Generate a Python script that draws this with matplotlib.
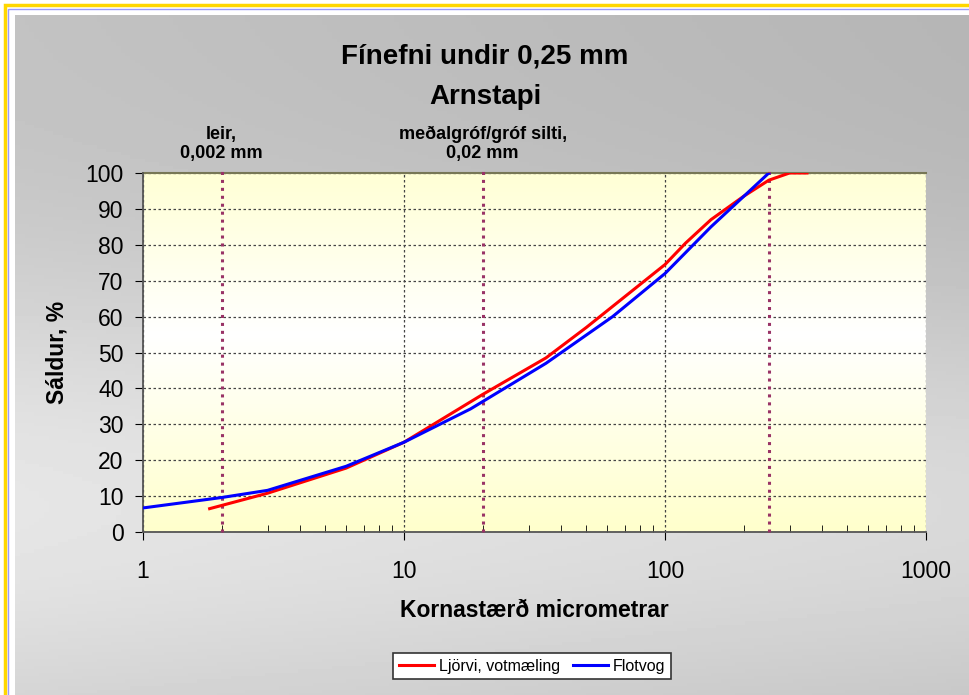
import matplotlib
matplotlib.use('Agg')
import matplotlib.pyplot as plt
import numpy as np
from matplotlib.patches import Rectangle
from matplotlib.ticker import LogLocator, NullFormatter

plt.rcParams['font.family'] = ['Liberation Sans', 'DejaVu Sans']

# Ljörvi, votmæling
red_x = [1.8, 3, 6, 10, 20, 35, 50, 70, 100, 120, 150, 200, 250, 300, 350]
red_y = [6.5, 10.8, 17.8, 25, 38.3, 48.5, 57, 65.5, 74.5, 80.5, 87, 93.5, 98, 100, 100]
# Flotvog
blue_x = [1, 2, 3, 6, 10, 18, 35, 63, 100, 150, 250]
blue_y = [6.7, 9.6, 11.6, 18.3, 25, 34.3, 47, 60, 72, 85, 100]

ref_lines = [2, 20, 250]
ref_labels = ['leir,\n0,002 mm', 'meðalgróf/gróf silti,\n0,02 mm']
yticks = list(range(0, 101, 10))
xticks = [1, 10, 100, 1000]

fig = plt.figure(figsize=(9.7, 6.95), dpi=100)

# background: yellow frame, thin blue line, gray gradient
bg = fig.add_axes([0, 0, 1, 1], zorder=-10)
bg.add_patch(Rectangle((5, 5), 975, 700, facecolor='white', edgecolor='#ffd700', lw=2.5, zorder=1))
bg.add_patch(Rectangle((8.5, 8.5), 970, 700, facecolor='none', edgecolor='#9999ff', lw=1, zorder=1))
yy, xx = np.mgrid[0:1:200j, 0:1:200j]
grad = 0.76 + 0.14 * np.exp(-((yy - 0.72) ** 2) / 0.12) - 0.05 * xx
bg.imshow(grad, cmap='gray', vmin=0, vmax=1, extent=[15, 975, 700, 15], aspect='auto', zorder=2)
bg.set_xlim(0, 970); bg.set_ylim(695, 0); bg.axis('off')

ax = fig.add_axes([143 / 970, 1 - 532 / 695, (926 - 143) / 970, (532 - 173) / 695])
ax.set_xscale('log')
ax.set_xlim(1, 1000)
ax.set_ylim(0, 100)

# yellow-white-yellow plot area gradient
g = np.linspace(0, 1, 200)[:, None]
pa = 1 - 0.2 * np.abs(g - 0.45) / 0.55
cols = np.dstack([np.ones_like(pa), np.ones_like(pa), pa])
ax.imshow(cols, extent=[0, 1, 0, 1], transform=ax.transAxes, aspect='auto', zorder=0)

ax.grid(True, which='major', linestyle=(0, (2, 2)), color='#444444', lw=0.9)
ax.set_axisbelow(True)

for xv in ref_lines:
    ax.plot([xv, xv], [0, 101.5], linestyle=(0, (1, 1.6)), color='#993366', lw=2.2,
            clip_on=False, zorder=3)

ax.plot(red_x, red_y, color='#ff0000', lw=2.2, label='Ljörvi, votmæling', zorder=4)
ax.plot(blue_x, blue_y, color='#0000ff', lw=2.2, label='Flotvog', zorder=5)

for xv, txt in zip(ref_lines[:2], ref_labels):
    ax.text(xv, 103, txt, ha='center', va='bottom', fontsize=13, fontweight='bold',
            linespacing=1.15)

ax.set_yticks(yticks)
ax.set_xticks(xticks)
ax.set_xticklabels([str(v) for v in xticks])
ax.xaxis.set_minor_locator(LogLocator(base=10, subs=np.arange(2, 10)))
ax.xaxis.set_minor_formatter(NullFormatter())
ax.tick_params(axis='x', which='major', direction='out', length=6, pad=14, labelsize=16.5)
ax.tick_params(axis='x', which='minor', direction='in', length=5)
ax.tick_params(axis='y', direction='out', length=6, labelsize=16.5, pad=8)
for s in ['top', 'right']:
    ax.spines[s].set_visible(False)
for s in ['left', 'bottom']:
    ax.spines[s].set_color('#555555')
    ax.spines[s].set_linewidth(1.3)
ax.plot([1, 1000], [100, 100], color='#777755', lw=1.5, clip_on=False, zorder=2)

ax.set_xlabel('Kornastærð micrometrar', fontsize=16.5, fontweight='bold', labelpad=12)
ax.set_ylabel('Sáldur, %', fontsize=16.5, fontweight='bold', labelpad=12)

fig.text(0.5, 1 - 57 / 695, 'Fínefni undir 0,25 mm', ha='center', va='center',
         fontsize=20, fontweight='bold')
fig.text(0.5, 1 - 97 / 695, 'Arnstapi', ha='center', va='center',
         fontsize=20, fontweight='bold')

leg = fig.legend(loc='center', bbox_to_anchor=(532 / 970, 1 - 666 / 695), ncol=2,
                 fontsize=11.5, frameon=True, fancybox=False, handlelength=2.2,
                 handletextpad=0.3, columnspacing=0.8, borderpad=0.35)
leg.get_frame().set_edgecolor('#333333')
leg.get_frame().set_linewidth(1.2)
leg.get_frame().set_facecolor('white')
leg.get_frame().set_alpha(1)

fig.savefig('out.png', dpi=100)
